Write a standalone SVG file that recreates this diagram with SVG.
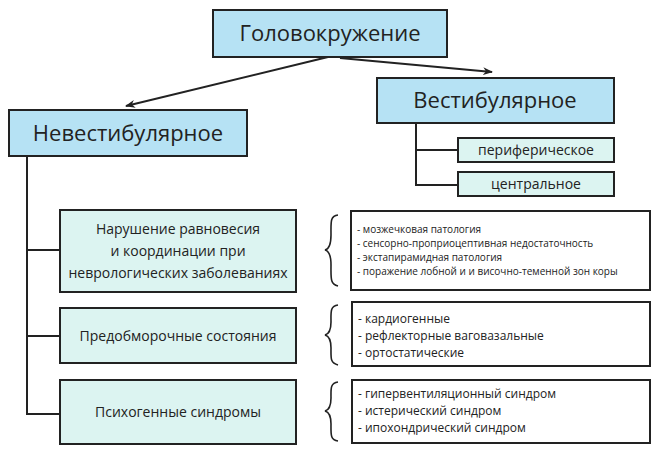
<svg xmlns="http://www.w3.org/2000/svg" width="660" height="457" viewBox="0 0 660 457">
<style>
text{font-family:"Open Sans","Noto Sans",sans-serif;fill:#222}
.b{fill:#b6e2f4;stroke:#222;stroke-width:2}
.l{fill:#dcf4f1;stroke:#222;stroke-width:2}
.w{fill:#fff;stroke:#222;stroke-width:2}
.c{fill:none;stroke:#222;stroke-width:2}
.br{fill:none;stroke:#222;stroke-width:1.6}
.big{font-size:22px}
.mid{font-size:14px}
.sm{font-size:10px}
.li{font-size:12px}
</style>
<defs><marker id="a" markerWidth="10" markerHeight="8" refX="9" refY="4" orient="auto" markerUnits="userSpaceOnUse"><path d="M0,0 L10,4 L0,8 L3,4 z" fill="#222"/></marker></defs>
<rect width="660" height="457" fill="#fff"/>
<g id="connectors">
<path class="c" d="M328,57 L126,106" marker-end="url(#a)"/>
<path class="c" d="M340,58 L492,72" marker-end="url(#a)"/>
<path class="c" d="M416,123 V185 H458 M416,150 H458"/>
<path class="c" d="M27,156 V414 H60 M27,250 H60 M27,336 H60"/>
<path class="br" d="M338,215 C330,216 331,222 331,235 C331,245 329,249 325,250 C329,251 331,255 331,265 C331,278 330,284 338,286"/>
<path class="br" d="M338,305 C330,306 331,312 331,322 C331,330 329,334 325,335 C329,336 331,340 331,348 C331,358 330,363 338,365"/>
<path class="br" d="M338,382 C330,383 331,389 331,398 C331,406 329,410 325,411 C329,412 331,416 331,424 C331,434 330,440 338,441"/>
</g>
<g id="root"><rect class="b" x="213" y="10" width="234" height="47"/><text class="big" x="330" y="41" text-anchor="middle">Головокружение</text></g>
<g id="vest"><rect class="b" x="377" y="78" width="237" height="45"/><text class="big" x="495" y="108" text-anchor="middle">Вестибулярное</text></g>
<g id="nonvest"><rect class="b" x="9" y="110" width="238" height="46"/><text class="big" x="128" y="141" text-anchor="middle">Невестибулярное</text></g>
<g id="periph"><rect class="l" x="458" y="138" width="156" height="24"/><text class="mid" x="536" y="155" text-anchor="middle">периферическое</text></g>
<g id="central"><rect class="l" x="458" y="172" width="156" height="24"/><text class="mid" x="536" y="189" text-anchor="middle">центральное</text></g>
<g id="n1"><rect class="l" x="60" y="210" width="236" height="82"/><text class="mid" text-anchor="middle"><tspan x="178" y="234">Нарушение равновесия</tspan><tspan x="178" y="256">и координации при</tspan><tspan x="178" y="278">неврологических заболеваниях</tspan></text></g>
<g id="n2"><rect class="l" x="60" y="308" width="236" height="55"/><text class="mid" x="178" y="341" text-anchor="middle">Предобморочные состояния</text></g>
<g id="n3"><rect class="l" x="60" y="380" width="236" height="64"/><text class="mid" x="178" y="417" text-anchor="middle">Психогенные синдромы</text></g>
<g id="d1"><rect class="w" x="351" y="211" width="299" height="79"/><text class="sm"><tspan x="357" y="233">- мозжечковая патология</tspan><tspan x="357" y="247">- сенсорно-проприоцептивная недостаточность</tspan><tspan x="357" y="261">- экстапирамидная патология</tspan><tspan x="357" y="275">- поражение лобной и и височно-теменной зон коры</tspan></text></g>
<g id="d2"><rect class="w" x="352" y="302" width="298" height="64"/><text class="li"><tspan x="358" y="323">- кардиогенные</tspan><tspan x="358" y="340">- рефлекторные ваговазальные</tspan><tspan x="358" y="357">- ортостатические</tspan></text></g>
<g id="d3"><rect class="w" x="352" y="380" width="298" height="63"/><text class="li"><tspan x="358" y="398">- гипервентиляционный синдром</tspan><tspan x="358" y="415">- истерический синдром</tspan><tspan x="358" y="432">- ипохондрический синдром</tspan></text></g>
</svg>
